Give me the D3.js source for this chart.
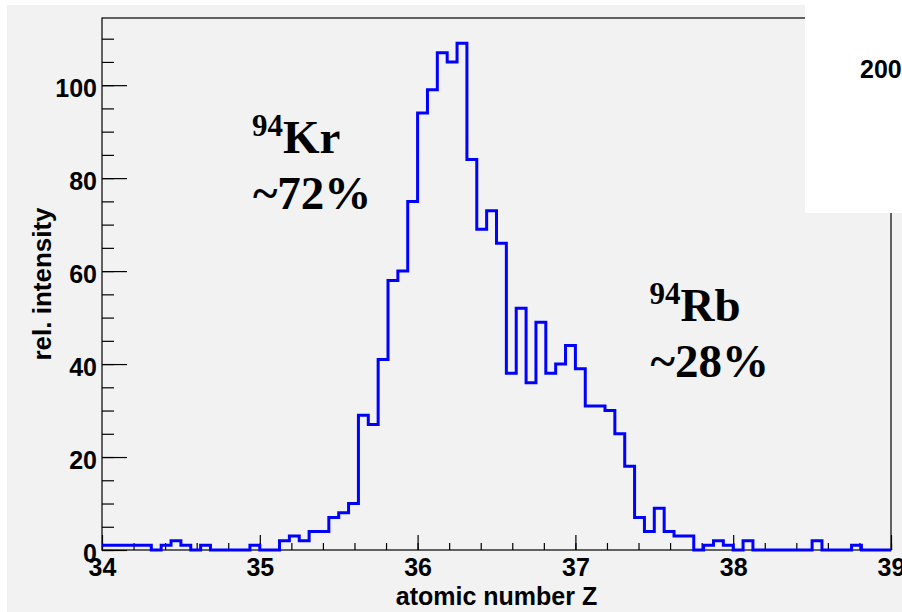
<!DOCTYPE html>
<html>
<head>
<meta charset="utf-8">
<script src="https://cdn.jsdelivr.net/npm/d3@7"></script>
<style>
  html, body { margin: 0; padding: 0; background: #ffffff; }
  svg { display: block; }
</style>
</head>
<body>
<svg id="chart" width="902" height="612"></svg>
<script>
// Atomic-number (Z) spectrum of the A = 94 beam: 80 bins between Z = 34 and Z = 39
const zRange = [34, 39];
const counts = [
  1, 1, 1, 1, 1, 0, 1, 2, 1, 0,
  1, 0, 0, 0, 0, 1, 0, 0, 2, 3,
  2, 4, 4, 7, 8, 10, 29, 27, 41, 58,
  60, 75, 94, 99, 107, 105, 109, 84, 69, 73,
  66, 38, 52, 36, 49, 38, 40, 44, 39, 31,
  31, 30, 25, 18, 7, 4, 9, 4, 3, 3,
  0, 1, 2, 1, 0, 2, 0, 0, 0, 0,
  0, 0, 2, 0, 0, 0, 1, 0, 0, 0
];
const xMajorTicks = [34, 35, 36, 37, 38, 39];
const xMinorTicks = d3.range(34, 39.0001, 0.2);
const yMajorTicks = [0, 20, 40, 60, 80, 100];
const yMinorTicks = d3.range(0, 114, 5);
const xTitle = "atomic number Z";
const yTitle = "rel. intensity";
const isotopes = [
  { mass: "94", element: "Kr", share: "~72%", z: 34.95, level: 85.3 },
  { mass: "94", element: "Rb", share: "~28%", z: 37.47, level: 49.2 }
];
const cornerText = "200";

const svg = d3.select("#chart");
const W = 902, H = 612;
const plot = { left: 102, right: 891, top: 18, bottom: 550 };

const binWidth = (zRange[1] - zRange[0]) / counts.length;
const bins = counts.map((v, i) => ({ x0: zRange[0] + i * binWidth, x1: zRange[0] + (i + 1) * binWidth, v }));

const x = d3.scaleLinear().domain(zRange).range([plot.left, plot.right]);
const y = d3.scaleLinear().domain([0, d3.max(counts) * 1.05]).range([plot.bottom, plot.top]);

// canvas and pad
svg.append("rect").attr("x", 0).attr("y", 0).attr("width", W).attr("height", H).attr("fill", "#ffffff");
svg.append("rect").attr("x", 7).attr("y", 5).attr("width", W - 7).attr("height", H - 5).attr("fill", "#f2f2f2");

const axisFont = "'Liberation Sans', Arial, Helvetica, sans-serif";

// frame
svg.append("rect")
  .attr("x", plot.left).attr("y", plot.top)
  .attr("width", plot.right - plot.left).attr("height", plot.bottom - plot.top)
  .attr("fill", "none").attr("stroke", "#000").attr("stroke-width", 1.2);

// y axis: minor then major ticks, pointing into the frame
svg.append("g").attr("transform", `translate(${plot.left},0)`)
  .call(d3.axisLeft(y).tickValues(yMinorTicks).tickSize(-12).tickSizeOuter(0).tickFormat(""))
  .call(g => g.select(".domain").remove())
  .call(g => g.selectAll("line").attr("stroke", "#000").attr("stroke-width", 1.2));

svg.append("g").attr("transform", `translate(${plot.left},0)`)
  .call(d3.axisLeft(y).tickValues(yMajorTicks).tickSize(-25).tickSizeOuter(0).tickPadding(5).tickFormat(d3.format("d")))
  .call(g => g.select(".domain").remove())
  .call(g => g.selectAll("line").attr("stroke", "#000").attr("stroke-width", 1.2))
  .call(g => g.selectAll("text")
    .attr("dy", "0.45em")
    .attr("fill", "#000")
    .style("font-family", axisFont).style("font-weight", "bold").style("font-size", "25px"));

// x axis: minor then major ticks
svg.append("g").attr("transform", `translate(0,${plot.bottom})`)
  .call(d3.axisBottom(x).tickValues(xMinorTicks).tickSize(-7).tickSizeOuter(0).tickFormat(""))
  .call(g => g.select(".domain").remove())
  .call(g => g.selectAll("line").attr("stroke", "#000").attr("stroke-width", 1.2));

svg.append("g").attr("transform", `translate(0,${plot.bottom})`)
  .call(d3.axisBottom(x).tickValues(xMajorTicks).tickSize(-15).tickSizeOuter(0).tickPadding(8).tickFormat(d3.format("d")))
  .call(g => g.select(".domain").remove())
  .call(g => g.selectAll("line").attr("stroke", "#000").attr("stroke-width", 1.2))
  .call(g => g.selectAll("text")
    .attr("fill", "#000")
    .style("font-family", axisFont).style("font-weight", "bold").style("font-size", "25px"));

// axis titles
svg.append("text")
  .attr("x", (plot.left + plot.right) / 2).attr("y", 605)
  .attr("text-anchor", "middle")
  .style("font-family", axisFont).style("font-weight", "bold").style("font-size", "25px")
  .text(xTitle);

svg.append("text")
  .attr("transform", `translate(51,${(plot.top + plot.bottom) / 2}) rotate(-90)`)
  .attr("text-anchor", "middle")
  .style("font-family", axisFont).style("font-weight", "bold").style("font-size", "26px")
  .text(yTitle);

// histogram outline (step line over the bins)
const stepPts = [];
bins.forEach(b => { stepPts.push([x(b.x0), y(b.v)]); stepPts.push([x(b.x1), y(b.v)]); });
svg.append("path")
  .attr("d", d3.line()(stepPts))
  .attr("fill", "none")
  .attr("stroke", "#0000ff")
  .attr("stroke-width", 3)
  .attr("stroke-linejoin", "miter");

// isotope annotations
const serif = "'Liberation Serif', 'Times New Roman', serif";
isotopes.forEach(d => {
  const g = svg.append("g").attr("transform", `translate(${x(d.z)},${y(d.level)})`);
  const t = g.append("text")
    .style("font-family", serif).style("font-weight", "bold").style("font-size", "47px")
    .attr("x", 0).attr("y", 0);
  t.append("tspan").style("font-size", "31px").attr("dy", "-17").text(d.mass);
  t.append("tspan").attr("dy", "17").text(d.element);
  g.append("text")
    .style("font-family", serif).style("font-weight", "bold").style("font-size", "47px")
    .attr("x", 1).attr("y", 56)
    .text(d.share);
});

// white corner box
svg.append("rect").attr("x", 805).attr("y", 0).attr("width", W - 805).attr("height", 213).attr("fill", "#ffffff");
svg.append("text")
  .attr("x", 860).attr("y", 78)
  .style("font-family", axisFont).style("font-weight", "bold").style("font-size", "25px")
  .text(cornerText);
</script>
</body>
</html>
